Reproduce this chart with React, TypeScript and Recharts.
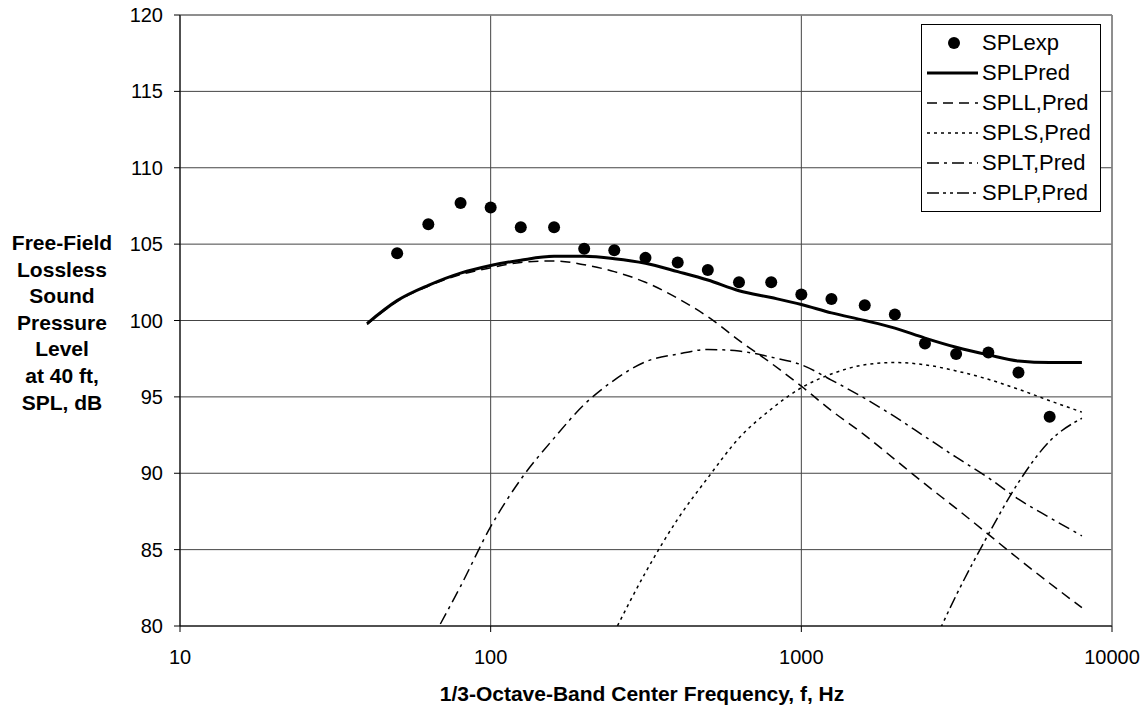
import React from 'react';
import { ComposedChart, Line, XAxis, YAxis, CartesianGrid, ReferenceLine, Legend } from 'recharts';

// 1/3-octave band centre frequencies, Hz
const freqs = [40, 50, 63, 80, 100, 125, 160, 200, 250, 315, 400, 500, 630, 800, 1000, 1250, 1600, 2000, 2500, 3150, 4000, 5000, 6300, 8000];

const splExp = [null, 104.4, 106.3, 107.7, 107.4, 106.1, 106.1, 104.7, 104.6, 104.1, 103.8, 103.3, 102.5, 102.5, 101.7, 101.4, 101.0, 100.4, 98.5, 97.8, 97.9, 96.6, 93.7, null];
const splPred = [99.8, 101.3, 102.3, 103.1, 103.6, 103.95, 104.2, 104.2, 104.05, 103.75, 103.2, 102.65, 101.95, 101.5, 101.05, 100.5, 100.0, 99.5, 98.85, 98.25, 97.75, 97.35, 97.25, 97.25];
const splL = [99.75, 101.25, 102.25, 103.0, 103.45, 103.8, 103.9, 103.65, 103.2, 102.5, 101.45, 100.25, 98.7, 97.2, 95.7, 94.1, 92.5, 90.9, 89.3, 87.7, 86.0, 84.4, 82.8, 81.2];
const splS = [null, null, null, null, null, null, null, null, 79.6, 83.5, 87.0, 89.7, 92.3, 94.2, 95.6, 96.5, 97.1, 97.25, 97.1, 96.7, 96.15, 95.5, 94.75, 94.0];
const splT = [null, null, 78.7, 82.6, 86.5, 89.6, 92.3, 94.5, 96.1, 97.3, 97.8, 98.1, 98.0, 97.6, 97.1, 96.1, 94.9, 93.7, 92.4, 91.05, 89.7, 88.3, 87.1, 85.9];
const splP = [null, null, null, null, null, null, null, null, null, null, null, null, null, null, null, null, null, null, 77.6, 82.0, 86.0, 89.4, 92.1, 93.6];

const xTicks = [10, 100, 1000, 10000];
const yTicks = [80, 85, 90, 95, 100, 105, 110, 115, 120];

const yTitleLines = ['Free-Field', 'Lossless', 'Sound', 'Pressure', 'Level', 'at 40 ft,', 'SPL, dB'];
const xTitle = '1/3-Octave-Band Center Frequency, f, Hz';

const data = freqs.map((f, i) => ({
  f,
  exp: splExp[i],
  pred: splPred[i],
  l: splL[i],
  s: splS[i],
  t: splT[i],
  p: splP[i],
}));

const FONT = '"Liberation Sans", Arial, Helvetica, sans-serif';

const legendItems = [
  { name: 'SPLexp', dot: true },
  { name: 'SPLPred', width: 3 },
  { name: 'SPLL,Pred', dash: '10 6' },
  { name: 'SPLS,Pred', dash: '3 4' },
  { name: 'SPLT,Pred', dash: '12 5 3 5' },
  { name: 'SPLP,Pred', dash: '12 4 3 4 3 4' },
];

const renderLegend = () => (
  <div
    style={{
      border: '1px solid #000',
      background: '#fff',
      padding: '3px 0',
      fontFamily: FONT,
      fontSize: 22,
      color: '#000',
    }}
  >
    {legendItems.map((it) => (
      <div key={it.name} style={{ display: 'flex', alignItems: 'center', height: 30 }}>
        <svg width={60} height={30} style={{ flex: 'none' }}>
          {it.dot ? (
            <circle cx={32} cy={15} r={6} fill="#000" />
          ) : (
            <line
              x1={5}
              x2={56}
              y1={15}
              y2={15}
              stroke="#000"
              strokeWidth={it.width ?? 1.5}
              strokeDasharray={it.dash}
            />
          )}
        </svg>
        <span style={{ whiteSpace: 'nowrap' }}>{it.name}</span>
      </div>
    ))}
  </div>
);

const renderYTitle = () => (
  <text x={62} y={250} textAnchor="middle" fontFamily={FONT} fontWeight="bold" fontSize={21} fill="#000">
    {yTitleLines.map((s, i) => (
      <tspan key={s} x={62} dy={i === 0 ? 0 : 26.6}>
        {s}
      </tspan>
    ))}
  </text>
);

const renderXTitle = () => (
  <text x={642} y={701} textAnchor="middle" fontFamily={FONT} fontWeight="bold" fontSize={21} fill="#000">
    {xTitle}
  </text>
);

const tickStyle = { fontFamily: FONT, fontSize: 20, fill: '#000' };

export default function App() {
  return (
    <div style={{ position: 'absolute', left: 0, top: 0, width: 1146, height: 709, background: '#fff' }}>
      <ComposedChart width={1146} height={709} data={data} margin={{ top: 15, right: 34, bottom: 43, left: 0 }}>
        <CartesianGrid stroke="#444" strokeWidth={1} />
        <XAxis
          dataKey="f"
          type="number"
          scale="log"
          domain={[10, 10000]}
          ticks={xTicks}
          allowDataOverflow
          height={40}
          axisLine={{ stroke: '#000' }}
          tickLine={{ stroke: '#000' }}
          tickSize={6}
          tickMargin={18}
          tick={tickStyle}
          label={{ content: renderXTitle }}
        />
        <YAxis
          type="number"
          domain={[80, 120]}
          ticks={yTicks}
          allowDataOverflow
          width={180}
          axisLine={{ stroke: '#000' }}
          tickLine={{ stroke: '#000' }}
          tickSize={6}
          tickMargin={11}
          tick={tickStyle}
          label={{ content: renderYTitle }}
        />
        <ReferenceLine y={120} stroke="#888" strokeWidth={1.5} />
        <ReferenceLine x={10000} stroke="#888" strokeWidth={1.5} />
        <Legend
          layout="vertical"
          align="center"
          verticalAlign="middle"
          content={renderLegend}
          wrapperStyle={{ top: 24, left: 921, width: 180 }}
        />
        <Line type="monotone" dataKey="l" name="SPLL,Pred" stroke="#000" strokeWidth={1.5} strokeDasharray="10 6" dot={false} isAnimationActive={false} />
        <Line type="monotone" dataKey="s" name="SPLS,Pred" stroke="#000" strokeWidth={1.5} strokeDasharray="3 4" dot={false} isAnimationActive={false} />
        <Line type="monotone" dataKey="t" name="SPLT,Pred" stroke="#000" strokeWidth={1.5} strokeDasharray="12 5 3 5" dot={false} isAnimationActive={false} />
        <Line type="monotone" dataKey="p" name="SPLP,Pred" stroke="#000" strokeWidth={1.5} strokeDasharray="12 4 3 4 3 4" dot={false} isAnimationActive={false} />
        <Line type="monotone" dataKey="pred" name="SPLPred" stroke="#000" strokeWidth={3} dot={false} isAnimationActive={false} />
        <Line
          dataKey="exp"
          name="SPLexp"
          stroke="none"
          dot={{ r: 6, fill: '#000', stroke: 'none' }}
          activeDot={false}
          isAnimationActive={false}
        />
      </ComposedChart>
    </div>
  );
}
